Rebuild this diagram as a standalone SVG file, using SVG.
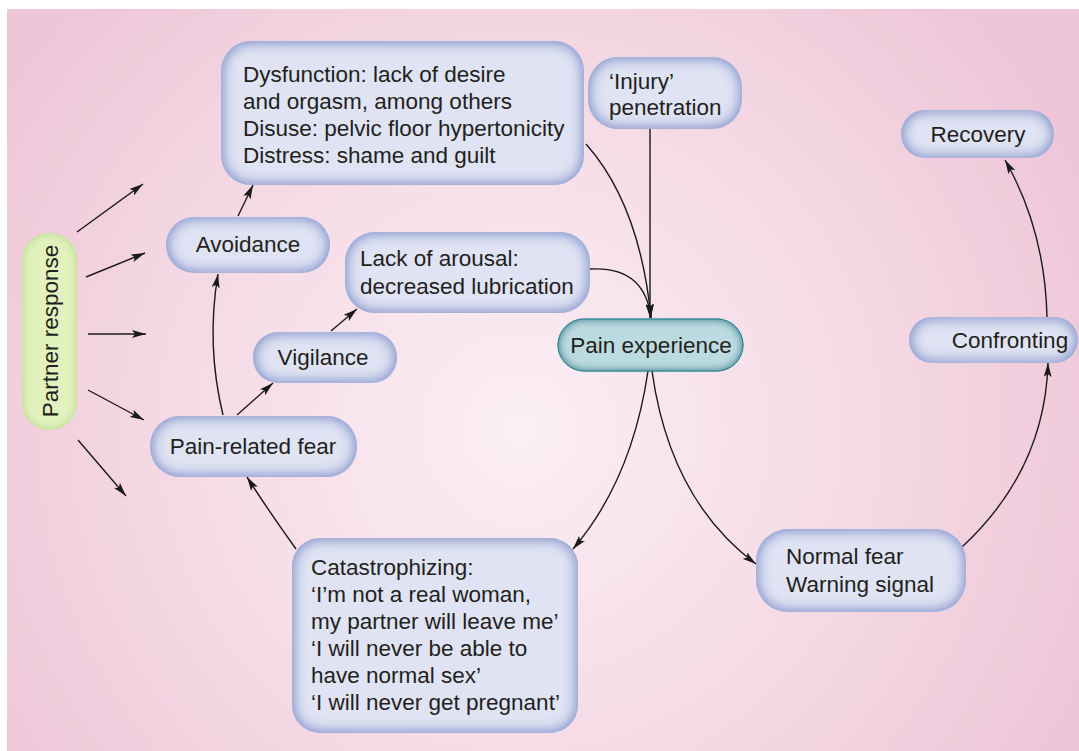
<svg xmlns="http://www.w3.org/2000/svg" width="1079" height="751" viewBox="0 0 1079 751">
<defs>
<radialGradient id="bg" gradientUnits="userSpaceOnUse" cx="520" cy="430" r="620">
<stop offset="0" stop-color="#fbeff4"/>
<stop offset="0.55" stop-color="#f5dae5"/>
<stop offset="1" stop-color="#eec6d7"/>
</radialGradient>
<filter id="glowBlue" x="-10%" y="-20%" width="120%" height="140%">
<feFlood flood-color="#8798cf"/>
<feComposite in2="SourceAlpha" operator="out"/>
<feGaussianBlur stdDeviation="7"/>
<feComposite in2="SourceAlpha" operator="in" result="g"/>
<feMerge><feMergeNode in="SourceGraphic"/><feMergeNode in="g"/><feMergeNode in="g"/></feMerge>
</filter>
<filter id="glowTeal" x="-10%" y="-20%" width="120%" height="140%">
<feFlood flood-color="#2f8794"/>
<feComposite in2="SourceAlpha" operator="out"/>
<feGaussianBlur stdDeviation="5"/>
<feComposite in2="SourceAlpha" operator="in" result="g"/>
<feMerge><feMergeNode in="SourceGraphic"/><feMergeNode in="g"/><feMergeNode in="g"/></feMerge>
</filter>
<filter id="glowGreen" x="-30%" y="-10%" width="160%" height="120%">
<feFlood flood-color="#a8d474"/>
<feComposite in2="SourceAlpha" operator="out"/>
<feGaussianBlur stdDeviation="5"/>
<feComposite in2="SourceAlpha" operator="in" result="g"/>
<feMerge><feMergeNode in="SourceGraphic"/><feMergeNode in="g"/></feMerge>
</filter>
<marker id="ah" viewBox="0 0 14 8" refX="14" refY="4" markerWidth="14" markerHeight="8" markerUnits="userSpaceOnUse" orient="auto">
<path d="M0,0 L14,4 L0,8 L3,4 Z" fill="#1a1a1a"/>
</marker>
<style>
.nb{fill:#dfe3f3;filter:url(#glowBlue);}
.nt{fill:#bcdbe1;filter:url(#glowTeal);stroke:#2f7f8a;stroke-width:1;}
.ng{fill:#e2f2bf;filter:url(#glowGreen);}
.t{font-family:"Liberation Sans",Arial,sans-serif;font-size:22.5px;fill:#231f20;}
.c{fill:none;stroke:#1a1a1a;stroke-width:1.4;marker-end:url(#ah);}
</style>
</defs>
<rect x="0" y="0" width="1079" height="751" fill="#ffffff"/>
<rect x="7" y="9" width="1072" height="742" fill="url(#bg)"/>

<g id="connectors">
<path class="c" d="M77,232 L143,184"/>
<path class="c" d="M86,277 L145,253"/>
<path class="c" d="M88,334 L146,334"/>
<path class="c" d="M88,390 L144,420"/>
<path class="c" d="M78,440 L126,496"/>
<path class="c" d="M223,415 Q206,345 218,274"/>
<path class="c" d="M238,216 L253,185"/>
<path class="c" d="M237,415 L273,383"/>
<path class="c" d="M331,331 L357,309"/>
<path class="c" d="M586,144 Q640,205 651,318"/>
<path class="c" d="M650,129 L650,318"/>
<path class="c" d="M590,269 Q645,266 651,318"/>
<path class="c" d="M648,371 Q632,480 573,549"/>
<path class="c" d="M652,371 Q670,500 756,564"/>
<path class="c" d="M962,547 Q1045,470 1048,363"/>
<path class="c" d="M1047,317 Q1045,230 1005,160"/>
<path class="c" d="M296,549 Q268,510 247,477"/>
</g>

<g id="n-dysfunction">
<rect class="nb" x="221" y="41" width="363" height="144" rx="30"/>
<text class="t" x="243" y="82">Dysfunction: lack of desire</text>
<text class="t" x="243" y="109">and orgasm, among others</text>
<text class="t" x="243" y="136">Disuse: pelvic floor hypertonicity</text>
<text class="t" x="243" y="163">Distress: shame and guilt</text>
</g>
<g id="n-injury">
<rect class="nb" x="588" y="57" width="154" height="72" rx="30"/>
<text class="t" x="609" y="89">‘Injury’</text>
<text class="t" x="609" y="115">penetration</text>
</g>
<g id="n-recovery">
<rect class="nb" x="901" y="110" width="153" height="48" rx="24"/>
<text class="t" x="978" y="142" text-anchor="middle">Recovery</text>
</g>
<g id="n-confronting">
<rect class="nb" x="909" y="317" width="169" height="46" rx="23"/>
<text class="t" x="1010" y="348" text-anchor="middle">Confronting</text>
</g>
<g id="n-pain">
<rect class="nt" x="558" y="319" width="185" height="52" rx="26"/>
<text class="t" x="651" y="353" text-anchor="middle">Pain experience</text>
</g>
<g id="n-arousal">
<rect class="nb" x="345" y="232" width="245" height="81" rx="30"/>
<text class="t" x="360" y="266">Lack of arousal:</text>
<text class="t" x="360" y="294">decreased lubrication</text>
</g>
<g id="n-avoidance">
<rect class="nb" x="166" y="217" width="164" height="56" rx="28"/>
<text class="t" x="248" y="252" text-anchor="middle">Avoidance</text>
</g>
<g id="n-vigilance">
<rect class="nb" x="253" y="332" width="144" height="51" rx="25"/>
<text class="t" x="323" y="365" text-anchor="middle">Vigilance</text>
</g>
<g id="n-fear">
<rect class="nb" x="150" y="416" width="207" height="61" rx="30"/>
<text class="t" x="253" y="454" text-anchor="middle">Pain-related fear</text>
</g>
<g id="n-partner">
<rect class="ng" x="22" y="233" width="55" height="197" rx="27"/>
<text class="t" x="0" y="0" text-anchor="middle" transform="translate(58,331) rotate(-90)">Partner response</text>
</g>
<g id="n-catastrophizing">
<rect class="nb" x="292" y="538" width="286" height="195" rx="28"/>
<text class="t" x="311" y="575">Catastrophizing:</text>
<text class="t" x="311" y="602">‘I’m not a real woman,</text>
<text class="t" x="311" y="629">my partner will leave me’</text>
<text class="t" x="311" y="656">‘I will never be able to</text>
<text class="t" x="311" y="683">have normal sex’</text>
<text class="t" x="311" y="710">‘I will never get pregnant’</text>
</g>
<g id="n-normal">
<rect class="nb" x="756" y="529" width="210" height="83" rx="32"/>
<text class="t" x="786" y="564">Normal fear</text>
<text class="t" x="786" y="592">Warning signal</text>
</g>
</svg>
